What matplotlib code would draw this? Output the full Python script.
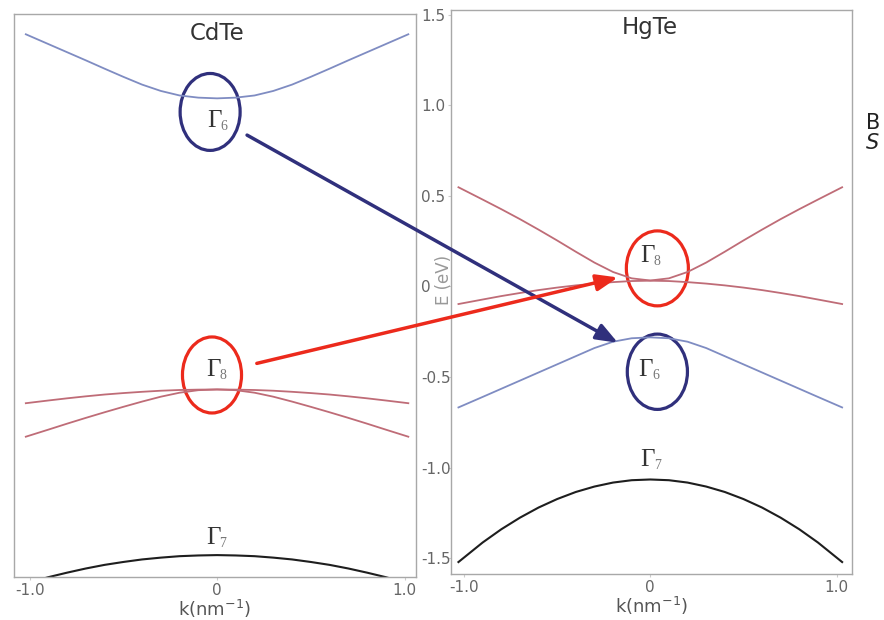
import matplotlib

matplotlib.use("Agg")
import matplotlib.pyplot as plt
from matplotlib.patches import Ellipse, ConnectionPatch, ArrowStyle

W, H = 884, 620

# ---------- data (k in nm^-1, E in eV) ----------
# CdTe
k_cd = [-1.02, -0.9, -0.8, -0.7, -0.6, -0.5, -0.4, -0.3, -0.2, -0.1, 0.0,
        0.1, 0.2, 0.3, 0.4, 0.5, 0.6, 0.7, 0.8, 0.9, 1.02]
cd_g6 = [1.393, 1.339, 1.294, 1.249, 1.203, 1.158, 1.115, 1.080, 1.055, 1.043, 1.039,
         1.043, 1.055, 1.080, 1.115, 1.158, 1.203, 1.249, 1.294, 1.339, 1.393]
cd_g8_lh = [-0.645, -0.630, -0.618, -0.607, -0.597, -0.589, -0.582, -0.576, -0.572, -0.570, -0.569,
            -0.570, -0.572, -0.576, -0.582, -0.589, -0.597, -0.607, -0.618, -0.630, -0.645]
cd_g8_hh = [-0.830, -0.791, -0.758, -0.726, -0.695, -0.665, -0.636, -0.609, -0.587, -0.573, -0.569,
            -0.573, -0.587, -0.609, -0.636, -0.665, -0.695, -0.726, -0.758, -0.791, -0.830]
k_cd7 = [-1.0, -0.9, -0.8, -0.7, -0.6, -0.5, -0.4, -0.3, -0.2, -0.1, 0.0,
         0.1, 0.2, 0.3, 0.4, 0.5, 0.6, 0.7, 0.8, 0.9, 1.0]
cd_g7 = [-1.635, -1.606, -1.581, -1.558, -1.538, -1.522, -1.508, -1.498, -1.490, -1.486, -1.484,
         -1.486, -1.490, -1.498, -1.508, -1.522, -1.538, -1.558, -1.581, -1.606, -1.635]

# HgTe
k_hg = [-1.03, -0.9, -0.8, -0.7, -0.6, -0.5, -0.4, -0.3, -0.2, -0.1, 0.0,
        0.1, 0.2, 0.3, 0.4, 0.5, 0.6, 0.7, 0.8, 0.9, 1.03]
hg_g8_up = [0.548, 0.480, 0.427, 0.372, 0.314, 0.254, 0.192, 0.132, 0.080, 0.045, 0.033,
            0.045, 0.080, 0.132, 0.192, 0.254, 0.314, 0.372, 0.427, 0.480, 0.548]
hg_g8_dn = [-0.097, -0.072, -0.053, -0.036, -0.020, -0.006, 0.006, 0.016, 0.024, 0.030, 0.032,
            0.030, 0.024, 0.016, 0.006, -0.006, -0.020, -0.036, -0.053, -0.072, -0.097]
hg_g6 = [-0.668, -0.610, -0.565, -0.520, -0.475, -0.430, -0.385, -0.340, -0.305, -0.286, -0.281,
         -0.286, -0.305, -0.340, -0.385, -0.430, -0.475, -0.520, -0.565, -0.610, -0.668]
hg_g7 = [-1.522, -1.414, -1.341, -1.277, -1.221, -1.174, -1.135, -1.105, -1.083, -1.070, -1.066,
         -1.070, -1.083, -1.105, -1.135, -1.174, -1.221, -1.277, -1.341, -1.414, -1.522]

E_TICKS = [-1.5, -1.0, -0.5, 0, 0.5, 1.0, 1.5]
E_TICKLABELS = ["-1.5", "-1.0", "-0.5", "0", "0.5", "1.0", "1.5"]
K_TICKS = [-1.0, 0, 1.0]
K_TICKLABELS = ["-1.0", "0", "1.0"]

C_BLUE = "#7f8cc2"
C_RED = "#bf6c77"
C_BLACK = "#1e1e1e"
C_NAVY = "#30307c"
C_ORANGE = "#ec2a1c"
C_SPINE = "#a8a8a8"
C_TICK = "#666666"


def box(x0, y0, x1, y1):
    """pixel box (top-left origin) -> figure fraction rect"""
    return [x0 / W, 1 - y1 / H, (x1 - x0) / W, (y1 - y0) / H]


fig = plt.figure(figsize=(W / 100, H / 100), dpi=100)
axL = fig.add_axes(box(14, 14, 416, 577))
axR = fig.add_axes(box(451, 10, 852, 574))

axL.set_xlim(-1.083, 1.061)
axL.set_ylim(-1.605, 1.505)
axR.set_xlim(-1.07, 1.083)
axR.set_ylim(-1.588, 1.527)

for ax in (axL, axR):
    for s in ax.spines.values():
        s.set_color(C_SPINE)
        s.set_linewidth(1.0)
    ax.set_xticks(K_TICKS)
    ax.set_xticklabels(K_TICKLABELS)
    ax.tick_params(axis="both", length=2, color="#cccccc", labelsize=11,
                   labelcolor=C_TICK, pad=2)
    ax.set_xlabel("k(nm$^{-1}$)", fontsize=13, color="#555555", labelpad=0)

axL.set_yticks([])
axR.set_yticks(E_TICKS)
axR.set_yticklabels(E_TICKLABELS, ha="left")
axR.tick_params(axis="y", pad=19.5)

# bands
axL.plot(k_cd, cd_g6, color=C_BLUE, lw=1.3)
axL.plot(k_cd, cd_g8_lh, color=C_RED, lw=1.3)
axL.plot(k_cd, cd_g8_hh, color=C_RED, lw=1.3)
axL.plot(k_cd7, cd_g7, color=C_BLACK, lw=1.5)

axR.plot(k_hg, hg_g8_up, color=C_RED, lw=1.3)
axR.plot(k_hg, hg_g8_dn, color=C_RED, lw=1.3)
axR.plot(k_hg, hg_g6, color=C_BLUE, lw=1.3)
axR.plot(k_hg, hg_g7, color=C_BLACK, lw=1.5)

axL.text(0.0, 1.40, "CdTe", ha="center", va="center", fontsize=16.5, color="#333333")
axR.text(0.0, 1.43, "HgTe", ha="center", va="center", fontsize=16.5, color="#333333")


def gamma(ax, k, e, sub):
    ax.text(k, e, "Γ", ha="center", va="center", fontsize=18,
            family="Liberation Serif", color="#333333")
    ax.annotate(sub, (k, e), xytext=(7, -4), textcoords="offset points",
                ha="center", va="center", fontsize=10,
                family="Liberation Serif", color="#777777")


gamma(axL, -0.015, 0.914, "6")
gamma(axL, -0.020, -0.461, "8")
gamma(axL, -0.020, -1.389, "7")
gamma(axR, -0.015, 0.168, "8")
gamma(axR, -0.025, -0.461, "6")
gamma(axR, -0.015, -0.958, "7")

# circles around the band edges
axL.add_patch(Ellipse((-0.037, 0.964), 0.32, 0.425, fill=False, ec=C_NAVY, lw=2.3))
axL.add_patch(Ellipse((-0.027, -0.489), 0.315, 0.42, fill=False, ec=C_ORANGE, lw=2.3))
axR.add_patch(Ellipse((0.038, 0.100), 0.333, 0.414, fill=False, ec=C_ORANGE, lw=2.3))
axR.add_patch(Ellipse((0.038, -0.471), 0.323, 0.416, fill=False, ec=C_NAVY, lw=2.3))

# band inversion arrows (CdTe -> HgTe)
head = ArrowStyle("-|>", head_length=1.3, head_width=0.5)
fig.add_artist(ConnectionPatch((0.16, 0.836), (-0.174, -0.311),
                               coordsA=axL.transData, coordsB=axR.transData,
                               arrowstyle=head, mutation_scale=10,
                               color=C_NAVY, lw=2.5, shrinkA=0, shrinkB=0))
fig.add_artist(ConnectionPatch((0.212, -0.425), (-0.174, 0.05),
                               coordsA=axL.transData, coordsB=axR.transData,
                               arrowstyle=head, mutation_scale=10,
                               color=C_ORANGE, lw=2.5, shrinkA=0, shrinkB=0))

fig.text(444 / W, 1 - 280 / H, "E (eV)", rotation=90, ha="center", va="center",
         fontsize=12, color="#999999")
fig.text(866 / W, 1 - 123 / H, "B", ha="left", va="center", fontsize=15, color="#222222")
fig.text(866 / W, 1 - 143 / H, "S", ha="left", va="center", fontsize=15,
         style="italic", color="#222222")

fig.savefig("out.png", dpi=100)
